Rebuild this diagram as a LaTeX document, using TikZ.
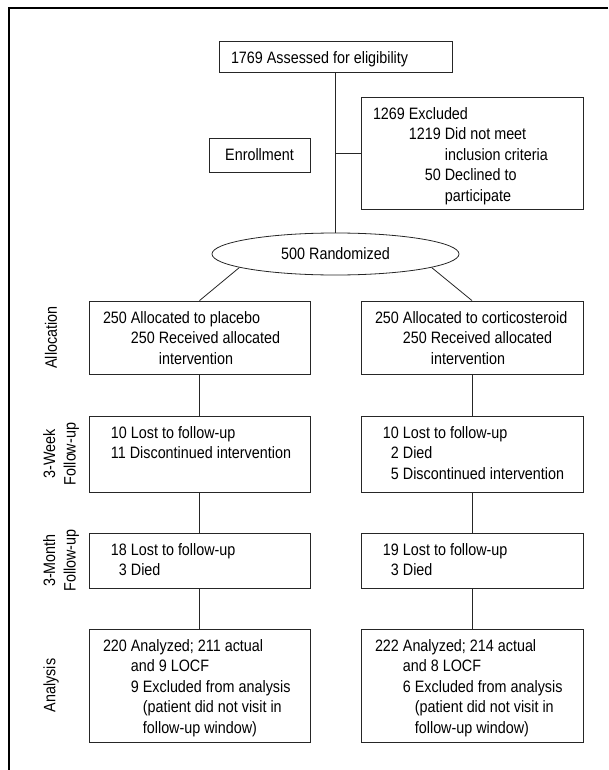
\documentclass[tikz,border=0pt]{standalone}
\usepackage{fontspec}
\setmainfont{Liberation Sans}[FakeStretch=0.87]
\usetikzlibrary{shapes.geometric}

% left padding, height and width of the text block in a box
\newcommand{\flowtext}[4][14pt]{\hspace*{#1}\parbox[c][#2][t]{#3}{\raggedright\strut #4}}

\begin{document}
\begin{tikzpicture}[font=\fontsize{16.5pt}{20.5pt}\selectfont,
  flow/.style={draw=black!85,line width=0.8pt,inner xsep=0pt,inner ysep=8pt},
  link/.style={draw=black!85,line width=0.8pt},
  stage/.style={rotate=90,align=center}]
\useasboundingbox (0pt,0pt) rectangle (608pt,-770pt);

% frame
\draw[line width=1.2pt] (608pt,-8pt) -- (9pt,-8pt) -- (9pt,-770pt);

% enrollment
\node[flow] (assess) at (335.5pt,-56.5pt) {\flowtext[12pt]{15pt}{221pt}{1769 Assessed for eligibility}};
\node[flow] (excl) at (472pt,-153pt) {\flowtext[12pt]{96pt}{210pt}{1269 Excluded\\
  \phantom{1269 }1219 Did not meet\\
  \phantom{1269 1219 }inclusion criteria\\
  \phantom{1269 12}50 Declined to\\
  \phantom{1269 1219 }participate}};
\node[link,minimum width=101pt,minimum height=34pt] (enroll) at (259.5pt,-155pt) {Enrollment};
\node[link,ellipse,minimum width=247pt,minimum height=42pt,inner sep=0pt] (rand) at (335.5pt,-254pt) {500 Randomized};

% allocation
\node[flow] (placebo) at (199.5pt,-337.5pt) {\flowtext{57pt}{207pt}{250 Allocated to placebo\\
  \phantom{250 }250 Received allocated\\
  \phantom{250 250 }intervention}};
\node[flow] (cort) at (472pt,-337.5pt) {\flowtext{57pt}{208pt}{250 Allocated to corticosteroid\\
  \phantom{250 }250 Received allocated\\
  \phantom{250 250 }intervention}};

% 3-week follow-up
\node[flow] (wkplac) at (199.5pt,-454pt) {\flowtext{60pt}{207pt}{\phantom{2}10 Lost to follow-up\\
  \phantom{2}11 Discontinued intervention}};
\node[flow] (wkcort) at (472pt,-454pt) {\flowtext{60pt}{208pt}{\phantom{2}10 Lost to follow-up\\
  \phantom{22}2 Died\\
  \phantom{22}5 Discontinued intervention}};

% 3-month follow-up
\node[flow] (moplac) at (199.5pt,-560.5pt) {\flowtext{39pt}{207pt}{\phantom{2}18 Lost to follow-up\\
  \phantom{22}3 Died}};
\node[flow] (mocort) at (472pt,-560.5pt) {\flowtext{39pt}{208pt}{\phantom{2}19 Lost to follow-up\\
  \phantom{22}3 Died}};

% analysis
\node[flow] (anplac) at (199.5pt,-685.5pt) {\flowtext{97pt}{207pt}{220 Analyzed; 211 actual\\
  \phantom{220 }and 9 LOCF\\
  \phantom{220 }9 Excluded from analysis\\
  \phantom{220 9 }(patient did not visit in\\
  \phantom{220 9 }follow-up window)}};
\node[flow] (ancort) at (472pt,-685.5pt) {\flowtext{97pt}{208pt}{222 Analyzed; 214 actual\\
  \phantom{222 }and 8 LOCF\\
  \phantom{222 }6 Excluded from analysis\\
  \phantom{222 6 }(patient did not visit in\\
  \phantom{222 6 }follow-up window)}};

% stage labels
\node[stage] (lalloc) at (51pt,-337.5pt) {Allocation};
\node[stage] (lweek) at (61pt,-454pt) {3-Week\\Follow-up};
\node[stage] (lmonth) at (61pt,-560.5pt) {3-Month\\Follow-up};
\node[stage] (lanal) at (51pt,-685.5pt) {Analysis};

% connectors
\draw[link] (assess.south) -- (rand.north);
\draw[link] (assess.south |- excl.west) -- (excl.west);
\draw[link] (rand.188) -- (placebo.north);
\draw[link] (rand.352) -- (cort.north);
\draw[link] (placebo) -- (wkplac);
\draw[link] (wkplac) -- (moplac);
\draw[link] (moplac) -- (anplac);
\draw[link] (cort) -- (wkcort);
\draw[link] (wkcort) -- (mocort);
\draw[link] (mocort) -- (ancort);
\end{tikzpicture}
\end{document}
